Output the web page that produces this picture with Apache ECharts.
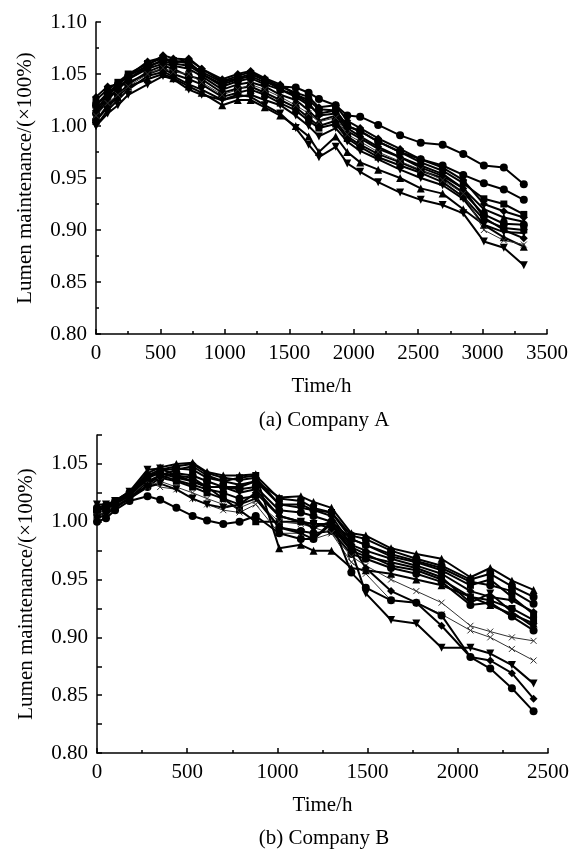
<!DOCTYPE html>
<html>
<head>
<meta charset="utf-8">
<title>Lumen maintenance</title>
<script src="https://cdn.jsdelivr.net/npm/echarts@6/dist/echarts.min.js"></script>
<style>
  html, body { margin: 0; padding: 0; background: #fff; }
  #chart { width: 573px; height: 852px; }
</style>
</head>
<body>
<div id="chart"></div>
<script>
// test times (h)
var timeA = [0, 90, 170, 250, 400, 520, 600, 720, 820, 980, 1100, 1200, 1310, 1430, 1550, 1650, 1730, 1860, 1950, 2050, 2190, 2360, 2520, 2690, 2850, 3010, 3165, 3320];
var timeB = [0, 50, 100, 180, 280, 350, 440, 530, 610, 700, 790, 880, 1010, 1130, 1200, 1300, 1410, 1490, 1630, 1770, 1910, 2070, 2180, 2300, 2420];

// Company A samples
var a1 = [1.020, 1.032, 1.040, 1.048, 1.058, 1.062, 1.060, 1.058, 1.050, 1.040, 1.045, 1.048, 1.042, 1.038, 1.037, 1.032, 1.026, 1.020, 1.010, 1.009, 1.001, 0.991, 0.984, 0.982, 0.973, 0.962, 0.960, 0.944];
var a2 = [1.012, 1.028, 1.035, 1.045, 1.056, 1.064, 1.062, 1.062, 1.050, 1.038, 1.043, 1.046, 1.040, 1.035, 1.030, 1.025, 1.016, 1.015, 1.000, 0.995, 0.985, 0.975, 0.968, 0.962, 0.953, 0.945, 0.939, 0.929];
var a3 = [1.000, 1.012, 1.020, 1.030, 1.040, 1.048, 1.045, 1.035, 1.030, 1.025, 1.030, 1.028, 1.020, 1.012, 0.998, 0.982, 0.970, 0.980, 0.964, 0.956, 0.946, 0.936, 0.929, 0.924, 0.916, 0.889, 0.883, 0.866];
var a4 = [1.005, 1.018, 1.028, 1.038, 1.045, 1.050, 1.046, 1.038, 1.032, 1.020, 1.025, 1.025, 1.018, 1.010, 1.000, 0.990, 0.975, 0.990, 0.975, 0.965, 0.958, 0.950, 0.940, 0.935, 0.920, 0.905, 0.893, 0.884];
var a5 = [1.025, 1.035, 1.042, 1.050, 1.060, 1.065, 1.063, 1.060, 1.052, 1.042, 1.046, 1.050, 1.044, 1.035, 1.028, 1.020, 1.012, 1.015, 1.000, 0.995, 0.985, 0.975, 0.965, 0.957, 0.945, 0.930, 0.925, 0.915];
var a6 = [1.015, 1.030, 1.038, 1.045, 1.058, 1.068, 1.065, 1.064, 1.055, 1.043, 1.048, 1.052, 1.045, 1.038, 1.032, 1.028, 1.018, 1.020, 1.005, 0.998, 0.988, 0.978, 0.968, 0.960, 0.948, 0.925, 0.918, 0.912];
var a7 = [1.010, 1.025, 1.035, 1.045, 1.055, 1.060, 1.058, 1.055, 1.048, 1.035, 1.040, 1.042, 1.038, 1.030, 1.025, 1.015, 1.005, 1.010, 0.995, 0.988, 0.978, 0.970, 0.962, 0.954, 0.940, 0.920, 0.912, 0.908];
var a8 = [1.005, 1.020, 1.030, 1.040, 1.052, 1.058, 1.055, 1.048, 1.045, 1.032, 1.036, 1.038, 1.032, 1.025, 1.018, 1.008, 1.000, 1.005, 0.990, 0.982, 0.973, 0.965, 0.957, 0.950, 0.936, 0.915, 0.906, 0.905];
var a9 = [1.020, 1.030, 1.038, 1.042, 1.050, 1.055, 1.050, 1.045, 1.040, 1.028, 1.032, 1.035, 1.030, 1.022, 1.015, 1.005, 0.998, 1.002, 0.988, 0.980, 0.970, 0.962, 0.955, 0.946, 0.932, 0.910, 0.902, 0.900];
var a10 = [1.000, 1.015, 1.025, 1.035, 1.048, 1.052, 1.048, 1.040, 1.035, 1.025, 1.028, 1.030, 1.025, 1.020, 1.010, 1.000, 0.990, 0.998, 0.985, 0.976, 0.968, 0.958, 0.950, 0.943, 0.930, 0.905, 0.898, 0.897];
var a11 = [1.028, 1.038, 1.040, 1.048, 1.062, 1.066, 1.060, 1.065, 1.055, 1.045, 1.050, 1.053, 1.046, 1.040, 1.030, 1.022, 1.010, 1.012, 0.998, 0.990, 0.980, 0.970, 0.960, 0.952, 0.940, 0.912, 0.900, 0.892];
var a12 = [1.010, 1.022, 1.030, 1.038, 1.050, 1.056, 1.052, 1.050, 1.042, 1.030, 1.035, 1.040, 1.035, 1.028, 1.020, 1.012, 1.004, 1.008, 0.992, 0.985, 0.975, 0.966, 0.958, 0.948, 0.935, 0.900, 0.890, 0.886];

// Company B samples
var b1 = [1.012, 1.014, 1.018, 1.025, 1.035, 1.040, 1.045, 1.048, 1.040, 1.035, 1.032, 1.035, 1.021, 1.022, 1.017, 1.012, 0.990, 0.988, 0.977, 0.972, 0.968, 0.952, 0.960, 0.949, 0.941];
var b2 = [1.010, 1.012, 1.016, 1.022, 1.030, 1.038, 1.042, 1.040, 1.035, 1.030, 1.028, 1.030, 1.010, 1.008, 1.005, 1.000, 0.985, 0.980, 0.972, 0.966, 0.960, 0.948, 0.945, 0.940, 0.929];
var b3 = [1.008, 1.010, 1.015, 1.024, 1.040, 1.045, 1.048, 1.050, 1.042, 1.038, 1.036, 1.038, 1.015, 1.012, 1.010, 1.005, 0.980, 0.975, 0.968, 0.962, 0.955, 0.940, 0.935, 0.932, 0.922];
var b4 = [1.005, 1.008, 1.013, 1.020, 1.035, 1.038, 1.035, 1.030, 1.025, 1.020, 1.010, 1.000, 1.000, 1.000, 0.998, 0.998, 0.978, 0.972, 0.962, 0.958, 0.950, 0.935, 0.932, 0.925, 0.915];
var b5 = [1.015, 1.015, 1.018, 1.026, 1.045, 1.046, 1.040, 1.035, 1.030, 1.030, 1.025, 1.028, 1.005, 1.000, 0.998, 0.995, 0.975, 0.970, 0.965, 0.960, 0.952, 0.930, 0.938, 0.922, 0.909];
var b6 = [1.010, 1.012, 1.015, 1.020, 1.032, 1.040, 1.036, 1.032, 1.028, 1.025, 1.020, 1.022, 0.995, 0.992, 0.990, 0.992, 0.972, 0.968, 0.960, 0.955, 0.948, 0.928, 0.930, 0.918, 0.906];
var b7 = [1.005, 1.008, 1.012, 1.020, 1.030, 1.035, 1.030, 1.025, 1.020, 1.015, 1.012, 1.018, 1.000, 0.998, 0.995, 0.990, 0.970, 0.962, 0.950, 0.940, 0.930, 0.910, 0.905, 0.900, 0.897];
var b8 = [1.008, 1.010, 1.014, 1.022, 1.035, 1.030, 1.028, 1.020, 1.015, 1.010, 1.008, 1.015, 0.990, 0.990, 0.985, 0.990, 0.965, 0.955, 0.932, 0.930, 0.920, 0.906, 0.900, 0.890, 0.880];
var b9 = [1.003, 1.006, 1.012, 1.020, 1.030, 1.033, 1.028, 1.020, 1.015, 1.012, 1.015, 1.020, 0.995, 0.990, 0.985, 0.998, 0.975, 0.938, 0.915, 0.912, 0.891, 0.891, 0.886, 0.876, 0.860];
var b10 = [1.010, 1.012, 1.016, 1.022, 1.038, 1.042, 1.038, 1.035, 1.030, 1.020, 1.015, 1.025, 1.005, 1.000, 0.995, 1.000, 0.980, 0.960, 0.940, 0.930, 0.910, 0.883, 0.880, 0.869, 0.847];
var b11 = [1.000, 1.003, 1.010, 1.018, 1.022, 1.019, 1.012, 1.005, 1.001, 0.998, 1.000, 1.005, 0.990, 0.985, 0.985, 1.000, 0.956, 0.943, 0.932, 0.930, 0.919, 0.883, 0.873, 0.856, 0.836];
var b12 = [1.012, 1.014, 1.018, 1.026, 1.042, 1.047, 1.050, 1.051, 1.043, 1.040, 1.040, 1.041, 0.977, 0.980, 0.975, 0.975, 0.960, 0.958, 0.955, 0.950, 0.945, 0.935, 0.928, 0.920, 0.912];
var b13 = [1.010, 1.012, 1.017, 1.024, 1.038, 1.044, 1.046, 1.045, 1.038, 1.035, 1.038, 1.040, 1.020, 1.018, 1.012, 1.008, 0.985, 0.980, 0.970, 0.965, 0.958, 0.945, 0.950, 0.935, 0.920];
var b14 = [1.012, 1.014, 1.017, 1.025, 1.040, 1.042, 1.040, 1.038, 1.030, 1.030, 1.030, 1.035, 1.015, 1.015, 1.010, 1.008, 0.988, 0.985, 0.975, 0.968, 0.962, 0.950, 0.955, 0.944, 0.935];

var FONT = "'Liberation Serif', 'Times New Roman', serif";
var FS = 21;
var CROSS = 'path://M0,0L10,10M10,0L0,10';

var chart = echarts.init(document.getElementById('chart'));

// one line per lamp
function mk(times, vals, idx, sym, thin) {
  var s = {
    type: 'line',
    xAxisIndex: idx,
    yAxisIndex: idx,
    data: times.map(function (t, i) { return [t, vals[i]]; }),
    symbol: sym === 'tdown' ? 'triangle' : sym,
    symbolRotate: sym === 'tdown' ? 180 : 0,
    symbolSize: sym === 'rect' ? 7 : 8,
    showAllSymbol: true,
    animation: false,
    lineStyle: { color: thin ? '#333' : '#000', width: thin ? 1 : 2 },
    itemStyle: { color: '#000' }
  };
  if (sym === CROSS) {
    s.itemStyle = { color: '#333', borderColor: '#333', borderWidth: 1 };
    s.symbolSize = 6;
  }
  return s;
}

function xAx(idx, max) {
  return {
    gridIndex: idx, type: 'value', min: 0, max: max, interval: 500,
    name: 'Time/h', nameLocation: 'middle', nameGap: 42,
    nameTextStyle: { fontFamily: FONT, fontSize: FS, color: '#000' },
    axisLine: { lineStyle: { color: '#000', width: 1.5 } },
    axisTick: { inside: true, length: 5, lineStyle: { color: '#000', width: 1.5 } },
    minorTick: { show: true, splitNumber: 2, length: 3, lineStyle: { color: '#000', width: 1.5 } },
    axisLabel: {
      fontFamily: FONT, fontSize: FS, color: '#000', margin: 9,
      formatter: function (v) { return String(v); }
    },
    splitLine: { show: false }
  };
}

function yAx(idx, max, interval, minor) {
  return {
    gridIndex: idx, type: 'value', min: 0.8, max: max, interval: interval,
    name: 'Lumen maintenance/(×100%)', nameLocation: 'middle', nameGap: 60,
    nameTextStyle: { fontFamily: FONT, fontSize: FS, color: '#000' },
    axisLine: { lineStyle: { color: '#000', width: 1.5 } },
    axisTick: { inside: true, length: 5, lineStyle: { color: '#000', width: 1.5 } },
    minorTick: { show: minor, splitNumber: 2, length: 3, lineStyle: { color: '#000', width: 1.5 } },
    axisLabel: {
      fontFamily: FONT, fontSize: FS, color: '#000', margin: 9,
      formatter: function (v) {
        // only label the 0.05 steps
        return Math.abs(v * 20 - Math.round(v * 20)) < 1e-6 ? v.toFixed(2) : '';
      }
    },
    splitLine: { show: false }
  };
}

var seriesA = [
  mk(timeA, a1, 0, 'circle'), mk(timeA, a2, 0, 'circle'), mk(timeA, a3, 0, 'tdown'),
  mk(timeA, a4, 0, 'triangle'), mk(timeA, a5, 0, 'rect'), mk(timeA, a6, 0, 'diamond'),
  mk(timeA, a7, 0, 'triangle'), mk(timeA, a8, 0, 'circle'), mk(timeA, a9, 0, 'rect'),
  mk(timeA, a10, 0, 'tdown'), mk(timeA, a11, 0, 'diamond'), mk(timeA, a12, 0, CROSS, true)
];
var seriesB = [
  mk(timeB, b1, 1, 'triangle'), mk(timeB, b2, 1, 'circle'), mk(timeB, b3, 1, 'diamond'),
  mk(timeB, b4, 1, 'rect'), mk(timeB, b5, 1, 'tdown'), mk(timeB, b6, 1, 'circle'),
  mk(timeB, b7, 1, CROSS, true), mk(timeB, b8, 1, CROSS, true), mk(timeB, b9, 1, 'tdown'),
  mk(timeB, b10, 1, 'diamond'), mk(timeB, b11, 1, 'circle'), mk(timeB, b12, 1, 'triangle'),
  mk(timeB, b13, 1, 'rect'), mk(timeB, b14, 1, 'circle')
];

chart.setOption({
  backgroundColor: '#fff',
  animation: false,
  grid: [
    { left: 96, right: 26, top: 22, bottom: 518 },
    { left: 97, right: 25, top: 435, bottom: 99 }
  ],
  xAxis: [xAx(0, 3500), xAx(1, 2500)],
  yAxis: [yAx(0, 1.1, 0.05, true), yAx(1, 1.075, 0.025, false)],
  graphic: [
    { type: 'text', x: 324, y: 420, style: { text: '(a) Company A', font: FS + 'px ' + FONT, fill: '#000', textAlign: 'center', textVerticalAlign: 'middle' } },
    { type: 'text', x: 324, y: 838, style: { text: '(b) Company B', font: FS + 'px ' + FONT, fill: '#000', textAlign: 'center', textVerticalAlign: 'middle' } }
  ],
  series: seriesA.concat(seriesB)
});
</script>
</body>
</html>
